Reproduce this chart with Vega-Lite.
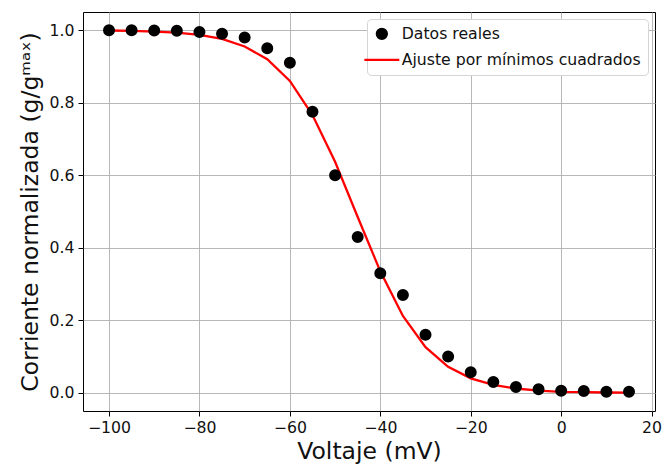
{
  "$schema": "https://vega.github.io/schema/vega-lite/v6.json",
  "autosize": "none",
  "width": 572,
  "height": 399,
  "padding": {"left": 83, "top": 12, "right": 7, "bottom": 57},
  "config": {
    "font": "DejaVu Sans",
    "view": {"stroke": "black", "strokeWidth": 1},
    "axis": {
      "gridColor": "#b0b0b0", "gridWidth": 0.9, "gridOpacity": 1,
      "domain": false, "tickColor": "black", "tickSize": 5, "tickWidth": 1,
      "labelFontSize": 15.7, "labelColor": "#111", "labelPadding": 4,
      "titleFontSize": 23.5, "titleFontWeight": "normal", "titleColor": "#111"
    },
    "legend": {
      "labelFontSize": 15.7, "labelColor": "#111", "labelLimit": 400,
      "fillColor": "white", "strokeColor": "#d5d5d5", "cornerRadius": 4,
      "padding": 7, "rowPadding": 7, "labelOffset": 12, "symbolStrokeWidth": 2.3,
      "symbolSize": 100
    }
  },
  "datasets": {
    "datos": [
      {"v": -100, "g": 1.0, "serie": "Datos reales"},
      {"v": -95, "g": 1.0, "serie": "Datos reales"},
      {"v": -90, "g": 0.999, "serie": "Datos reales"},
      {"v": -85, "g": 0.998, "serie": "Datos reales"},
      {"v": -80, "g": 0.995, "serie": "Datos reales"},
      {"v": -75, "g": 0.99, "serie": "Datos reales"},
      {"v": -70, "g": 0.98, "serie": "Datos reales"},
      {"v": -65, "g": 0.95, "serie": "Datos reales"},
      {"v": -60, "g": 0.91, "serie": "Datos reales"},
      {"v": -55, "g": 0.775, "serie": "Datos reales"},
      {"v": -50, "g": 0.60, "serie": "Datos reales"},
      {"v": -45, "g": 0.43, "serie": "Datos reales"},
      {"v": -40, "g": 0.33, "serie": "Datos reales"},
      {"v": -35, "g": 0.27, "serie": "Datos reales"},
      {"v": -30, "g": 0.16, "serie": "Datos reales"},
      {"v": -25, "g": 0.10, "serie": "Datos reales"},
      {"v": -20, "g": 0.057, "serie": "Datos reales"},
      {"v": -15, "g": 0.03, "serie": "Datos reales"},
      {"v": -10, "g": 0.016, "serie": "Datos reales"},
      {"v": -5, "g": 0.01, "serie": "Datos reales"},
      {"v": 0, "g": 0.006, "serie": "Datos reales"},
      {"v": 5, "g": 0.005, "serie": "Datos reales"},
      {"v": 10, "g": 0.003, "serie": "Datos reales"},
      {"v": 15, "g": 0.003, "serie": "Datos reales"}
    ],
    "ajuste": [
      {"v": -100, "g": 0.999},
      {"v": -95, "g": 0.998},
      {"v": -90, "g": 0.996},
      {"v": -85, "g": 0.993},
      {"v": -80, "g": 0.987},
      {"v": -75, "g": 0.976},
      {"v": -70, "g": 0.955},
      {"v": -65, "g": 0.92},
      {"v": -60, "g": 0.86},
      {"v": -55, "g": 0.766},
      {"v": -50, "g": 0.637},
      {"v": -45, "g": 0.485},
      {"v": -40, "g": 0.335},
      {"v": -35, "g": 0.212},
      {"v": -30, "g": 0.126},
      {"v": -25, "g": 0.072},
      {"v": -20, "g": 0.04},
      {"v": -15, "g": 0.022},
      {"v": -10, "g": 0.012},
      {"v": -5, "g": 0.006},
      {"v": 0, "g": 0.003},
      {"v": 5, "g": 0.002},
      {"v": 10, "g": 0.001},
      {"v": 15, "g": 0.0005}
    ]
  },
  "encoding": {
    "x": {
      "field": "v", "type": "quantitative",
      "scale": {"domain": [-105.75, 20.75], "nice": false, "zero": false},
      "axis": {"values": [-100, -80, -60, -40, -20, 0, 20], "format": "d", "title": "Voltaje (mV)", "titlePadding": 5}
    },
    "y": {
      "field": "g", "type": "quantitative",
      "scale": {"domain": [-0.05, 1.05], "nice": false, "zero": false},
      "axis": {"values": [0, 0.2, 0.4, 0.6, 0.8, 1.0], "format": ".1f", "title": "Corriente normalizada (g/gᵐᵃˣ)", "titlePadding": 7}
    }
  },
  "layer": [
    {
      "data": {"name": "ajuste"},
      "mark": {"type": "line", "color": "red", "strokeWidth": 2.3}
    },
    {
      "data": {"name": "datos"},
      "mark": {"type": "point", "filled": true, "size": 100, "opacity": 1},
      "encoding": {
        "color": {
          "field": "serie", "type": "nominal",
          "scale": {"domain": ["Datos reales", "Ajuste por mínimos cuadrados"], "range": ["black", "red"]},
          "legend": {"title": null, "orient": "top-right", "offset": 7}
        },
        "stroke": {
          "field": "serie", "type": "nominal",
          "scale": {"domain": ["Datos reales", "Ajuste por mínimos cuadrados"], "range": ["black", "red"]},
          "legend": {"title": null, "orient": "top-right", "offset": 7}
        },
        "shape": {
          "field": "serie", "type": "nominal",
          "scale": {"domain": ["Datos reales", "Ajuste por mínimos cuadrados"], "range": ["circle", "M-3.5,0H3.5"]},
          "legend": {"title": null, "orient": "top-right", "offset": 7}
        }
      }
    }
  ]
}
